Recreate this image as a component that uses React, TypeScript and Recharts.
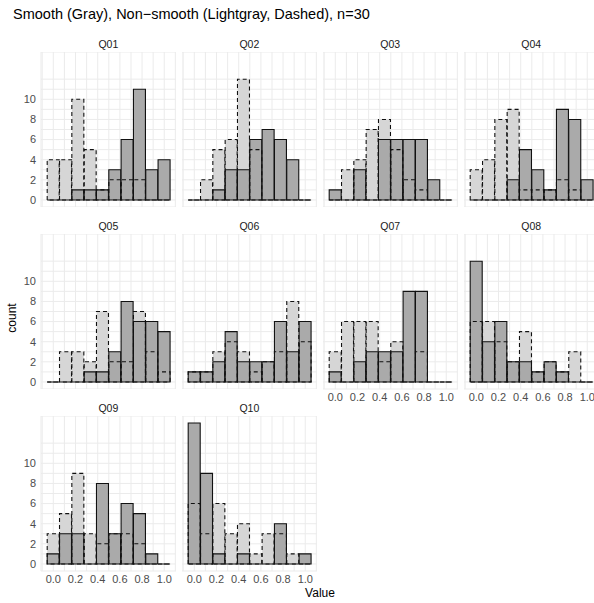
import { BarChart, Bar, XAxis, YAxis, CartesianGrid } from "recharts";

// histogram bins: 10 bins of width 1/9, centred on these values
const binCenters = [0, 0.111, 0.222, 0.333, 0.444, 0.556, 0.667, 0.778, 0.889, 1.0];
const xGridTicks = [-0.1, 0, 0.1, 0.2, 0.3, 0.4, 0.5, 0.6, 0.7, 0.8, 0.9, 1.0, 1.1];
const xLabelTicks = [0, 0.2, 0.4, 0.6, 0.8, 1.0];
const yGridTicks = [0, 1, 2, 3, 4, 5, 6, 7, 8, 9, 10, 11, 12];
const yLabelTicks = [0, 2, 4, 6, 8, 10];

// counts per bin: "smooth" = gray solid, "non" = lightgray dashed
const q01Smooth = [0, 0, 1, 1, 1, 3, 6, 11, 3, 4];
const q01Non = [4, 4, 10, 5, 1, 2, 2, 2, 0, 0];
const q02Smooth = [0, 0, 1, 3, 3, 6, 7, 6, 4, 0];
const q02Non = [0, 2, 5, 6, 12, 5, 0, 0, 0, 0];
const q03Smooth = [1, 0, 3, 0, 6, 6, 6, 6, 2, 0];
const q03Non = [0, 3, 4, 7, 8, 5, 2, 1, 0, 0];
const q04Smooth = [0, 0, 0, 2, 5, 3, 1, 9, 8, 2];
const q04Non = [3, 4, 8, 9, 1, 1, 1, 2, 1, 0];
const q05Smooth = [0, 0, 0, 1, 1, 3, 8, 6, 6, 5];
const q05Non = [0, 3, 3, 2, 7, 2, 2, 7, 3, 1];
const q06Smooth = [1, 1, 2, 5, 2, 2, 2, 6, 3, 6];
const q06Non = [1, 1, 3, 4, 3, 1, 2, 3, 8, 4];
const q07Smooth = [1, 0, 2, 3, 3, 3, 9, 9, 0, 0];
const q07Non = [3, 6, 6, 6, 2, 4, 0, 3, 0, 0];
const q08Smooth = [12, 4, 6, 2, 2, 1, 2, 1, 0, 0];
const q08Non = [6, 6, 4, 2, 5, 1, 2, 1, 3, 0];
const q09Smooth = [1, 3, 3, 0, 8, 3, 6, 5, 1, 0];
const q09Non = [3, 5, 9, 3, 2, 3, 3, 2, 0, 0];
const q10Smooth = [14, 9, 1, 0, 1, 0, 0, 4, 0, 1];
const q10Non = [6, 3, 6, 3, 4, 1, 3, 3, 1, 0];

const panels = [
  { name: "Q01", smooth: q01Smooth, non: q01Non },
  { name: "Q02", smooth: q02Smooth, non: q02Non },
  { name: "Q03", smooth: q03Smooth, non: q03Non },
  { name: "Q04", smooth: q04Smooth, non: q04Non },
  { name: "Q05", smooth: q05Smooth, non: q05Non },
  { name: "Q06", smooth: q06Smooth, non: q06Non },
  { name: "Q07", smooth: q07Smooth, non: q07Non },
  { name: "Q08", smooth: q08Smooth, non: q08Non },
  { name: "Q09", smooth: q09Smooth, non: q09Non },
  { name: "Q10", smooth: q10Smooth, non: q10Non },
];

const FONT = "'Liberation Sans', Arial, sans-serif";
const PLOT_LEFT = [40.6, 181.6, 322.5, 463.5];
const PLOT_TOP = [51.7, 233.5, 416];
const PLOT_W = 135.6;
const PLOT_H = 155;
const BIN_PAD = 6.2;

function binShape(fill: string, stroke: string, dash?: string) {
  return (p: any) => {
    const { x, y, width, height } = p;
    if (x == null || y == null) return <g />;
    const h = Math.max(height || 0, 0);
    const d = `M${x},${y + h}L${x},${y}L${x + width},${y}L${x + width},${y + h}Z`;
    return <path d={d} fill={fill} stroke={stroke} strokeWidth={1.1} strokeDasharray={dash} />;
  };
}

const lightFill = binShape("#d6d6d6", "none");
const darkBar = binShape("#aaaaaa", "#111");
const lightOutline = binShape("none", "#111", "4 3");

function xLabel(v: number) {
  const hit = xLabelTicks.find((t) => Math.abs(t - v) < 1e-6);
  return hit === undefined ? "" : hit.toFixed(1);
}

function yLabel(v: number) {
  return yLabelTicks.includes(v) ? String(v) : "";
}

const tickStyle = { fontSize: 11, fill: "#4d4d4d", fontFamily: FONT };

function Panel(props: { name: string; smooth: number[]; non: number[]; row: number; col: number; showX: boolean; showY: boolean }) {
  const data = binCenters.map((c, i) => ({ center: c, smooth: props.smooth[i], non: props.non[i] }));
  const yw = props.showY ? 30 : 0;
  const xh = props.showX ? 22 : 0;
  const left = PLOT_LEFT[props.col];
  const top = PLOT_TOP[props.row];
  return (
    <>
      <div
        style={{
          position: "absolute",
          left,
          top: top - 14,
          width: PLOT_W,
          textAlign: "center",
          fontSize: 10.5,
          color: "#1a1a1a",
          lineHeight: "12px",
        }}
      >
        {props.name}
      </div>
      <div style={{ position: "absolute", left: left - yw, top }}>
        <BarChart
          width={PLOT_W + yw}
          height={PLOT_H + xh}
          data={data}
          margin={{ top: 0, right: 0, bottom: 0, left: 0 }}
          barCategoryGap={0}
          barGap={0}
        >
          <XAxis
            xAxisId="num"
            dataKey="center"
            type="number"
            domain={[-0.1111, 1.1111]}
            allowDataOverflow
            ticks={xGridTicks}
            interval={0}
            tickFormatter={props.showX ? xLabel : () => ""}
            height={xh}
            tick={tickStyle}
            tickLine={false}
            axisLine={false}
            tickSize={0}
            tickMargin={4}
          />
          <XAxis xAxisId="fill" dataKey="center" type="category" orientation="top" height={0} hide padding={{ left: BIN_PAD, right: BIN_PAD }} />
          <XAxis xAxisId="dark" dataKey="center" type="category" orientation="top" height={0} hide padding={{ left: BIN_PAD, right: BIN_PAD }} />
          <XAxis xAxisId="dash" dataKey="center" type="category" orientation="top" height={0} hide padding={{ left: BIN_PAD, right: BIN_PAD }} />
          <YAxis
            type="number"
            domain={[-0.7, 14.7]}
            allowDataOverflow
            ticks={yGridTicks}
            interval={0}
            tickFormatter={props.showY ? yLabel : () => ""}
            width={yw}
            tick={tickStyle}
            tickLine={false}
            axisLine={false}
            tickSize={0}
            tickMargin={5}
          />
          <CartesianGrid xAxisId="num" stroke="#ebebeb" strokeWidth={1} />
          <Bar xAxisId="fill" dataKey="non" shape={lightFill} isAnimationActive={false} />
          <Bar xAxisId="dark" dataKey="smooth" shape={darkBar} isAnimationActive={false} />
          <Bar xAxisId="dash" dataKey="non" shape={lightOutline} isAnimationActive={false} />
        </BarChart>
      </div>
    </>
  );
}

export default function App() {
  return (
    <div
      style={{
        position: "absolute",
        left: 0,
        top: 0,
        width: 594,
        height: 603,
        overflow: "hidden",
        background: "#fff",
        fontFamily: FONT,
      }}
    >
      <div style={{ position: "absolute", left: 13, top: 6, fontSize: 14.5, color: "#000", whiteSpace: "nowrap" }}>
        Smooth (Gray), Non−smooth (Lightgray, Dashed), n=30
      </div>
      {panels.map((p, i) => {
        const row = Math.floor(i / 4);
        const col = i % 4;
        const showX = row === 2 || (row === 1 && col >= 2);
        return (
          <Panel key={p.name} name={p.name} smooth={p.smooth} non={p.non} row={row} col={col} showX={showX} showY={col === 0} />
        );
      })}
      <div
        style={{
          position: "absolute",
          left: 12 - 30,
          top: 318 - 8,
          width: 60,
          textAlign: "center",
          fontSize: 12,
          transform: "rotate(-90deg)",
          lineHeight: "16px",
        }}
      >
        count
      </div>
      <div style={{ position: "absolute", left: 290, top: 585, width: 60, textAlign: "center", fontSize: 12, lineHeight: "16px" }}>
        Value
      </div>
    </div>
  );
}
